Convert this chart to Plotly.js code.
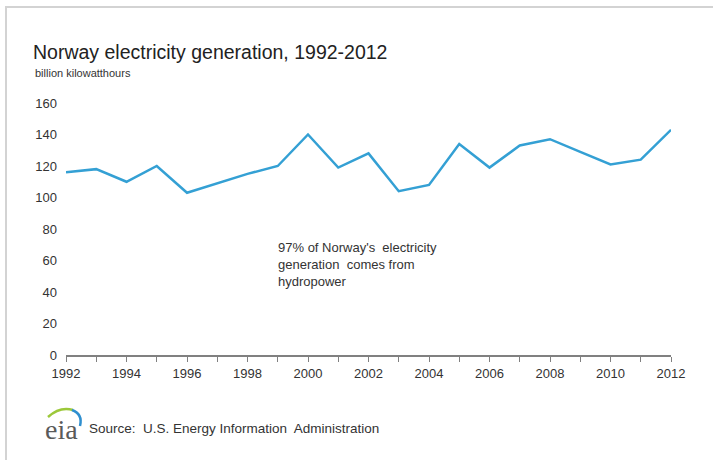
<!DOCTYPE html>
<html>
<head>
<meta charset="utf-8">
<script src="https://cdn.plot.ly/plotly-3.0.1.min.js"></script>
<style>
  html, body { margin: 0; padding: 0; background: #fff; }
  #chart { width: 713px; height: 460px; }
</style>
</head>
<body>
<div id="chart"></div>
<script>
// Norway electricity generation, billion kilowatthours
const years = [1992, 1993, 1994, 1995, 1996, 1997, 1998, 1999, 2000, 2001, 2002,
               2003, 2004, 2005, 2006, 2007, 2008, 2009, 2010, 2011, 2012];
const generation = [116, 118, 110, 120, 103, 109, 115, 120, 140, 119, 128,
                    104, 108, 134, 119, 133, 137, 129, 121, 124, 143];
const yTicks = [0, 20, 40, 60, 80, 100, 120, 140, 160];
const xTickLabels = years.map(y => (y % 2 === 0 ? String(y) : ''));

// plot-area geometry in pixels (used to place the decorations)
const W = 713, H = 460;
const M = { l: 66, r: 42, t: 103, b: 105 };
const PW = W - M.l - M.r, PH = H - M.t - M.b;
const px = x => (x - M.l) / PW;
const py = y => (H - M.b - y) / PH;

const trace = {
  x: years,
  y: generation,
  type: 'scatter',
  mode: 'lines',
  line: { color: '#34a0d4', width: 2.5 },
  hoverinfo: 'x+y'
};

const layout = {
  width: W,
  height: H,
  margin: M,
  paper_bgcolor: 'rgba(0,0,0,0)',
  plot_bgcolor: 'rgba(0,0,0,0)',
  showlegend: false,
  font: { family: 'Arial, "Liberation Sans", sans-serif', color: '#333' },
  title: {
    text: 'Norway electricity generation, 1992-2012',
    font: { size: 19.5, color: '#222' },
    x: 33 / W, xanchor: 'left', xref: 'container',
    y: 1 - 52 / H, yanchor: 'middle', yref: 'container'
  },
  xaxis: {
    range: [1992, 2012],
    tickvals: years,
    ticktext: xTickLabels,
    ticks: 'outside',
    ticklen: 5,
    tickwidth: 1,
    tickcolor: '#808080',
    showline: true,
    linecolor: '#808080',
    linewidth: 2,
    showgrid: false,
    zeroline: false,
    tickfont: { size: 13, color: '#333' },
    fixedrange: true
  },
  yaxis: {
    range: [0, 160],
    tickvals: yTicks,
    showgrid: false,
    zeroline: false,
    showline: false,
    ticks: '',
    ticklabelstandoff: 8,
    tickfont: { size: 13, color: '#333' },
    fixedrange: true
  },
  annotations: [
    {
      text: 'billion kilowatthours',
      xref: 'paper', yref: 'paper',
      x: px(33), y: py(73), xanchor: 'left', yanchor: 'middle',
      showarrow: false,
      font: { size: 11, color: '#333' }
    },
    {
      text: "97% of Norway's  electricity<br>generation  comes from<br>hydropower",
      xref: 'paper', yref: 'paper',
      x: px(276), y: py(264), xanchor: 'left', yanchor: 'middle',
      align: 'left',
      showarrow: false,
      font: { size: 13, color: '#333' }
    },
    {
      text: 'Source:  U.S. Energy Information  Administration',
      xref: 'paper', yref: 'paper',
      x: px(87), y: py(428), xanchor: 'left', yanchor: 'middle',
      showarrow: false,
      font: { size: 13.5, color: '#333' }
    },
    {
      text: 'eia',
      xref: 'paper', yref: 'paper',
      x: px(43), y: py(429), xanchor: 'left', yanchor: 'middle',
      showarrow: false,
      font: { size: 28, color: '#5a5a5a', family: '"Liberation Serif", "DejaVu Serif", serif' }
    }
  ],
  shapes: [
    // frame: top and left edges
    {
      type: 'line', xref: 'paper', yref: 'paper', layer: 'below',
      x0: px(5), x1: px(713), y0: py(7), y1: py(7),
      line: { color: '#d3d3d3', width: 2 }
    },
    {
      type: 'line', xref: 'paper', yref: 'paper', layer: 'below',
      x0: px(6), x1: px(6), y0: py(7), y1: py(460),
      line: { color: '#d3d3d3', width: 2 }
    },
    // logo swoosh
    {
      type: 'path', xref: 'paper', yref: 'paper',
      path: 'M ' + px(48) + ' ' + py(417) + ' Q ' + px(60) + ' ' + py(406) + ' ' + px(73) + ' ' + py(410),
      line: { color: '#9cc83a', width: 2.5 }
    },
    {
      type: 'path', xref: 'paper', yref: 'paper',
      path: 'M ' + px(72) + ' ' + py(410) + ' Q ' + px(83) + ' ' + py(414) + ' ' + px(80) + ' ' + py(426),
      line: { color: '#2f8fcf', width: 2.5 }
    }
  ]
};

Plotly.newPlot('chart', [trace], layout, { staticPlot: true, displayModeBar: false });
</script>
</body>
</html>
